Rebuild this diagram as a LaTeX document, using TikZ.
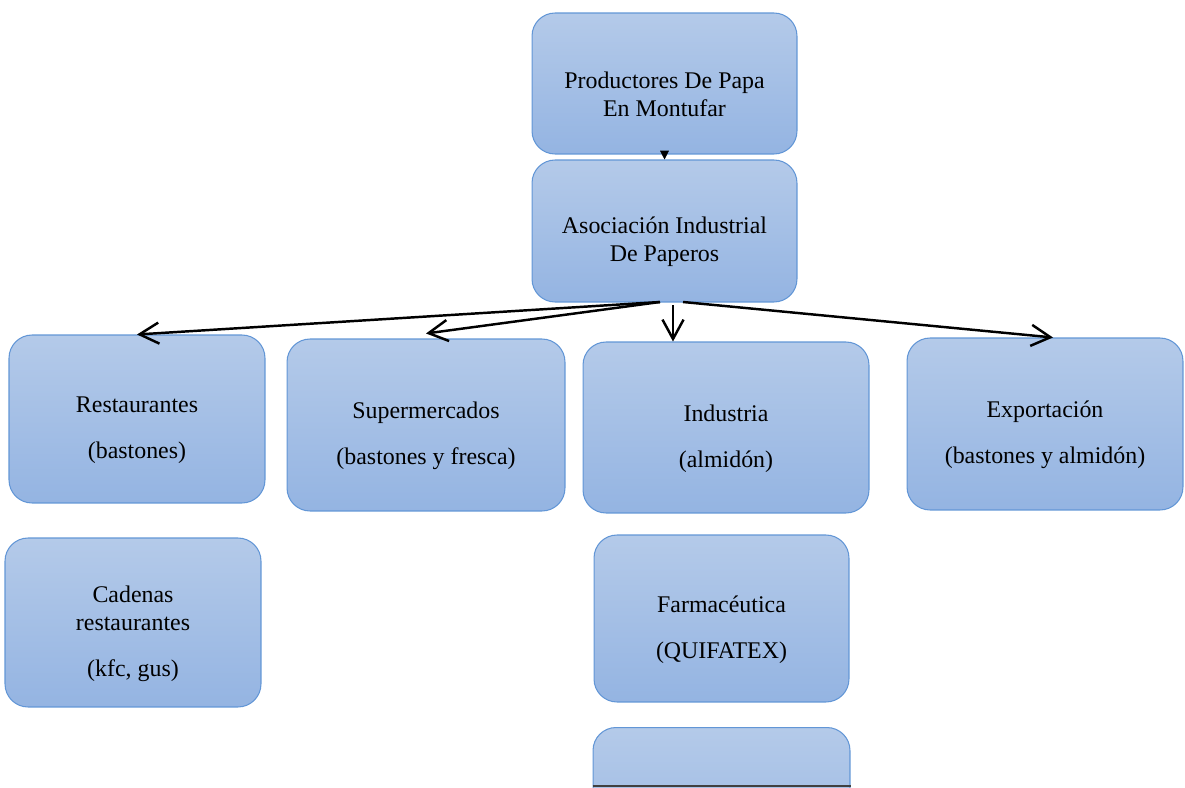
\documentclass[tikz,border=0pt]{standalone}
\usepackage{fontspec}
\setmainfont{Liberation Serif}
\usetikzlibrary{arrows.meta,positioning}
\definecolor{cajaborde}{RGB}{98,150,214}
\definecolor{cajaarriba}{RGB}{180,202,233}
\definecolor{cajaabajo}{RGB}{148,180,226}
\newcommand{\baja}{\rule{0pt}{22pt}}
\tikzset
{
	caja/.style = {rectangle, rounded corners=0.46cm, draw=cajaborde, line width=0.6pt, top color=cajaarriba, bottom color=cajaabajo, align=center, font=\fontsize{13.6}{16}\selectfont},
	flecha/.style = {draw=black, line width=1.4pt, -{Straight Barb[length=11pt,width=12pt,line width=1.4pt]}}
}

\begin{document}
\begin{tikzpicture}[x=0.02cm, y=-0.02cm]
\useasboundingbox (0,0) rectangle (1185,787);
\clip (0,0) rectangle (1185,787);
% cadena principal
\node[caja, minimum width=5.3cm, minimum height=2.82cm] (prod) at (664.5,83.5) {\baja Productores De Papa\\En Montufar};
\node[caja, minimum width=5.3cm, minimum height=2.84cm] (asoc) at (664.5,231) {\baja Asociación Industrial\\De Paperos};
% destinos
\node[caja, minimum width=5.12cm, minimum height=3.36cm] (rest) at (137,419) {\baja Restaurantes\\[10pt](bastones)};
\node[caja, minimum width=5.56cm, minimum height=3.44cm] (super) at (426,425) {\baja Supermercados\\[10pt](bastones y fresca)};
\node[caja, minimum width=5.72cm, minimum height=3.42cm] (indus) at (726,427.5) {\baja Industria\\[10pt](almidón)};
\node[caja, minimum width=5.52cm, minimum height=3.44cm] (expo) at (1045,424) {\baja Exportación\\[10pt](bastones y almidón)};
\node[caja, minimum width=5.12cm, minimum height=3.38cm] (cadenas) at (133,622.5) {\baja Cadenas\\restaurantes\\[10pt](kfc, gus)};
\node[caja, minimum width=5.1cm, minimum height=3.34cm] (farma) at (721.5,618.5) {\baja Farmacéutica\\[10pt](QUIFATEX)};
\node[caja, minimum width=5.14cm, minimum height=3.34cm] (sig) at (721.5,811) {};
\draw[line width=1.2pt, draw=black!75] (sig.west |- 0,786) -- (sig.east |- 0,786);
% conectores
\coordinate (izq) at (660,302);
\coordinate (der) at (683,302);
\coordinate (abajo) at (673,305);
\draw[-{Triangle[length=5pt,width=5pt]}] (prod.south) -- (asoc.north);
\draw[flecha] (izq) -- (rest.north);
\draw[flecha] (izq) -- ([yshift=0.1cm]super.north);
\draw[flecha] (abajo) -- (abajo |- indus.north);
\draw[flecha] (der) -- ([xshift=0.16cm]expo.north);
\end{tikzpicture}
\end{document}
